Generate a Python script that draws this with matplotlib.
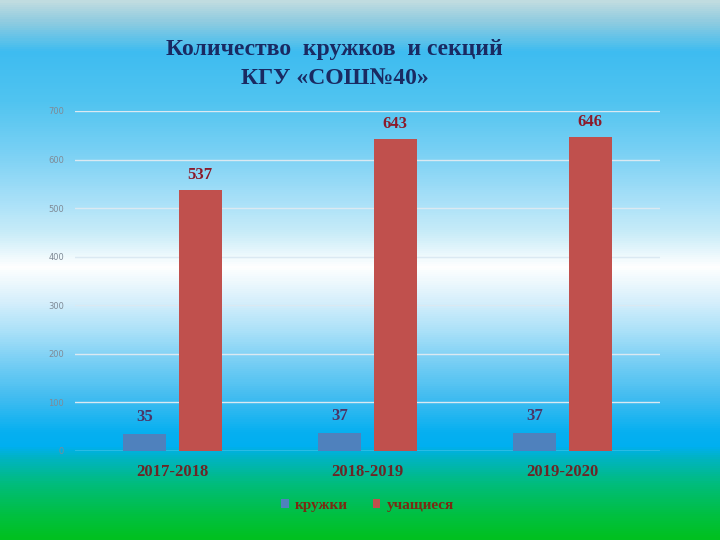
import numpy as np
import matplotlib
matplotlib.use("Agg")
import matplotlib.pyplot as plt
from matplotlib.colors import LinearSegmentedColormap

# Данные
years = ["2017-2018", "2018-2019", "2019-2020"]
kruzhki = [35, 37, 37]
uchashchiesya = [537, 643, 646]

serif = "Liberation Serif"

fig = plt.figure(figsize=(7.2, 5.4), dpi=100)

# Фон: градиент небо -> белый -> небо -> зелёный
bg = fig.add_axes([0, 0, 1, 1], zorder=0)
stops = [(0.0, "#c0dce0"), (0.037, "#90cce0"), (0.093, "#3ebcf0"),
         (0.185, "#50c4f0"), (0.278, "#78d0f4"), (0.37, "#a8e0f8"),
         (0.43, "#c8ecf8"), (0.494, "#ffffff"), (0.556, "#d8f0fc"),
         (0.617, "#a8e0f8"), (0.68, "#70ccf4"), (0.74, "#40bcf0"),
         (0.80, "#08b0f0"), (0.828, "#00aff0"), (0.852, "#00b4c0"),
         (0.895, "#00bc80"), (0.957, "#00c040"), (1.0, "#00c020")]
cmap = LinearSegmentedColormap.from_list("bg", stops)
grad = np.linspace(0, 1, 540).reshape(-1, 1)
bg.imshow(grad, aspect="auto", cmap=cmap, extent=[0, 1, 0, 1], origin="upper")
bg.axis("off")

ax = fig.add_axes([75 / 720, (540 - 451) / 540, 585 / 720, 340 / 540], zorder=1)
ax.patch.set_alpha(0)

x = np.arange(len(years))
w = 0.22
off = 0.142
b1 = ax.bar(x - off, kruzhki, w, color="#4f81bd", label="кружки", zorder=3)
b2 = ax.bar(x + off, uchashchiesya, w, color="#c0504d", label="учащиеся", zorder=3)

for rect, v in zip(b1, kruzhki):
    ax.text(rect.get_x() + rect.get_width() / 2, v + 18, str(v), ha="center", va="bottom",
            fontsize=12, fontweight="bold", family=serif, color="#4b3566")
for rect, v in zip(b2, uchashchiesya):
    ax.text(rect.get_x() + rect.get_width() / 2, v + 14, str(v), ha="center", va="bottom",
            fontsize=12, fontweight="bold", family=serif, color="#8b1a2a")

ax.set_xlim(-0.5, 2.5)
ax.set_ylim(0, 700)
ax.set_yticks(range(0, 701, 100))
ax.grid(axis="y", color="#dbe9f2", linewidth=1, zorder=0)
ax.set_axisbelow(True)
for s in ax.spines.values():
    s.set_visible(False)
ax.tick_params(axis="both", length=0)
ax.tick_params(axis="y", labelsize=6, labelcolor="#7f8a96", pad=8)
ax.set_xticks(x)
ax.set_xticklabels(years, family=serif, fontweight="bold", fontsize=12, color="#6b2626")
ax.tick_params(axis="x", pad=9)

leg = ax.legend(loc="upper center", bbox_to_anchor=(0.5, -0.1), ncol=2, frameon=False,
                handlelength=0.5, handleheight=0.5, handletextpad=0.4, columnspacing=1.6,
                prop={"family": serif, "weight": "bold", "size": 11})
for t in leg.get_texts():
    t.set_color("#7a2a12")

fig.text(334 / 720, 1 - 50 / 540, "Количество  кружков  и секций", ha="center", va="center",
         family=serif, fontweight="bold", fontsize=17, color="#1a2a62")
fig.text(335 / 720, 1 - 79 / 540, "КГУ «СОШ№40»", ha="center", va="center",
         family=serif, fontweight="bold", fontsize=17, color="#1a2a62")

fig.savefig("out.png", dpi=100)
